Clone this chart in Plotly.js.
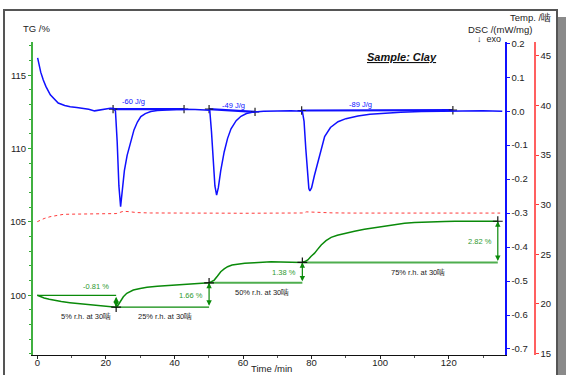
<!DOCTYPE html>
<html>
<head>
<meta charset="utf-8">
<script src="https://cdn.plot.ly/plotly-3.0.1.min.js"></script>
<style>html,body{margin:0;padding:0;background:#fff;}#chart{width:571px;height:375px;}</style>
</head>
<body>
<div id="chart"></div>
<script>
// ---- Data ----
const tgTime = [0, 1, 2, 3.5, 4.7, 7, 9.5, 12, 14.4, 17, 19.3, 21, 23, 23.6, 24.3, 25.1, 26.1, 27, 28, 30, 32, 35, 37.7, 40.5, 43.6, 46.5, 49.4, 50.1, 50.8, 51.6, 52.5, 53.5, 54.5, 55.5, 56.8, 58.4, 60.5, 63.3, 66, 68.2, 71, 74, 77.3, 78, 78.9, 79.8, 80.8, 81.8, 82.8, 84.2, 85.7, 87.5, 89.6, 92.5, 95.4, 98.3, 101.3, 104.2, 107.1, 110, 113, 116, 118.8, 121.8, 124.7, 129.5, 134.3];
const tg = [100.0, 99.9, 99.82, 99.73, 99.67, 99.57, 99.5, 99.44, 99.39, 99.33, 99.29, 99.25, 99.19, 99.34, 99.6, 99.9, 100.14, 100.27, 100.36, 100.47, 100.55, 100.61, 100.65, 100.7, 100.75, 100.8, 100.84, 100.85, 100.93, 101.04, 101.3, 101.61, 101.8, 101.95, 102.06, 102.13, 102.18, 102.22, 102.26, 102.29, 102.27, 102.25, 102.24, 102.3, 102.41, 102.65, 102.86, 103.15, 103.43, 103.73, 103.95, 104.1, 104.23, 104.37, 104.5, 104.61, 104.72, 104.82, 104.91, 104.96, 105.0, 105.02, 105.04, 105.05, 105.06, 105.06, 105.05];

const dscTime = [0.1, 0.5, 1, 1.75, 2.5, 3.8, 5, 6.1, 8, 9.6, 11.5, 13.5, 15, 16.7, 18, 19.5, 21.3, 22.3, 22.8, 23.3, 23.8, 24.3, 24.8, 25.4, 26.2, 27.2, 28.2, 29.2, 30.2, 31.5, 33.1, 35, 38, 42, 46, 49, 50.3, 50.8, 51.3, 51.8, 52.3, 52.8, 53.5, 54.5, 55.5, 56.5, 58, 59.4, 61, 63.3, 66, 70, 74, 77.3, 77.8, 78.3, 78.8, 79.2, 79.5, 80, 80.8, 81.8, 82.8, 83.8, 85.5, 87.7, 90, 93.5, 97, 101.2, 106, 112, 118, 124, 130, 135.6];
const dsc = [0.157, 0.135, 0.115, 0.092, 0.073, 0.048, 0.034, 0.024, 0.017, 0.013, 0.011, 0.009, 0.006, 0.001, 0.003, 0.007, 0.009, 0.008, 0.0, -0.09, -0.22, -0.281, -0.24, -0.175, -0.13, -0.09, -0.055, -0.032, -0.016, -0.007, -0.001, 0.002, 0.004, 0.006, 0.005, 0.004, 0.003, -0.06, -0.15, -0.22, -0.247, -0.225, -0.175, -0.12, -0.08, -0.052, -0.028, -0.015, -0.007, -0.002, 0.0, 0.001, 0.001, 0.0, -0.03, -0.11, -0.19, -0.228, -0.235, -0.225, -0.19, -0.153, -0.11, -0.075, -0.048, -0.031, -0.022, -0.014, -0.009, -0.006, -0.003, -0.001, 0.0, 0.001, 0.001, 0.0];

const tempTime = [0, 1, 2, 3.7, 5.5, 7.6, 10, 14.4, 18, 22, 23, 23.5, 24.3, 25.1, 26.5, 29, 33, 38, 43.5, 50, 55, 60, 65, 70, 75, 77.5, 78.5, 80, 82, 86, 92, 100, 108, 116, 124, 130, 135];
const temp = [28.28, 28.45, 28.6, 28.78, 28.92, 29.02, 29.04, 29.05, 29.08, 29.12, 29.1, 29.15, 29.28, 29.33, 29.3, 29.2, 29.16, 29.14, 29.13, 29.13, 29.14, 29.13, 29.13, 29.14, 29.13, 29.16, 29.27, 29.25, 29.2, 29.17, 29.15, 29.14, 29.14, 29.15, 29.15, 29.16, 29.15];

// TG step evaluation
const stepTimes = [0, 23.0, 50.1, 77.3, 134.3];
const stepLevels = [100.0, 99.19, 100.85, 102.24, 105.05];
const stepLabels = ['-0.81 %', '1.66 %', '1.38 %', '2.82 %'];
const rhLabels = ['5% r.h. at 30啮', '25% r.h. at 30啮', '50% r.h. at 30啮', '75% r.h. at 30啮'];

// DSC peak integration
const peakStart = [22.1, 50.1, 77.1];
const peakEnd = [42.8, 63.5, 121.2];
const baseStart = [0.006, 0.006, 0.002];
const baseEnd = [0.006, -0.002, 0.003];
const peakLabels = ['-60 J/g', '-49 J/g', '-89 J/g'];

// Axis ticks
const xTicks = [0, 20, 40, 60, 80, 100, 120];
const tgTicks = [100, 105, 110, 115];
const dscTickVals = [-0.7, -0.6, -0.5, -0.4, -0.3, -0.2, -0.1, 0.0, 0.1, 0.2];
const dscTickText = ['-0.7', '-0.6', '-0.5', '-0.4', '-0.3', '-0.2', '-0.1', '0.0', '0.1', '0.2'];
const tempTicks = [15, 20, 25, 30, 35, 40, 45];

// ---- Styling / positions ----
const FONT = 'Liberation Sans, Arial, sans-serif';
const GREEN = '#0a8a0a';
const LEVEL_GREEN = '#4fae4f';
const LABEL_GREEN = '#2f9a2f';
const BLUE = '#1010ff';
const RED = '#ff3a3a';

const traces = [];
for (let i = 0; i < stepLabels.length; i++) {
  traces.push({x: [stepTimes[i], stepTimes[i + 1]], y: [stepLevels[i], stepLevels[i]], xaxis: 'x', yaxis: 'y', mode: 'lines',
    line: {color: i < 2 ? GREEN : LEVEL_GREEN, width: i < 2 ? 1.3 : 2}, hoverinfo: 'skip', showlegend: false});
}
traces.push({x: tgTime, y: tg, xaxis: 'x', yaxis: 'y', mode: 'lines', line: {color: GREEN, width: 1.5}, name: 'TG', showlegend: false});
traces.push({x: stepTimes.slice(1), y: stepLevels.slice(1), xaxis: 'x', yaxis: 'y', mode: 'markers',
  marker: {symbol: 'cross-thin', size: 7, line: {color: '#111', width: 1.2}}, showlegend: false, hoverinfo: 'skip'});
traces.push({x: tempTime, y: temp, xaxis: 'x', yaxis: 'y3', mode: 'lines', line: {color: RED, width: 1, dash: 'dot'}, name: 'Temp', showlegend: false});
for (let i = 0; i < peakStart.length; i++) {
  traces.push({x: [peakStart[i], peakEnd[i]], y: [baseStart[i], baseEnd[i]], xaxis: 'x', yaxis: 'y2', mode: 'lines+markers',
    line: {color: BLUE, width: 2.2}, marker: {symbol: 'cross-thin', size: 6, line: {color: '#222', width: 1.2}}, showlegend: false, hoverinfo: 'skip'});
}
traces.push({x: dscTime, y: dsc, xaxis: 'x', yaxis: 'y2', mode: 'lines', line: {color: BLUE, width: 1.5}, name: 'DSC', showlegend: false});

const annotations = [];
for (let i = 0; i < stepLabels.length; i++) {
  const t = stepTimes[i + 1];
  annotations.push({x: t, y: stepLevels[i + 1], ax: t, ay: stepLevels[i], xref: 'x', yref: 'y', axref: 'x', ayref: 'y',
    text: '', showarrow: true, arrowhead: 2, startarrowhead: 2, arrowside: 'end+start', arrowsize: 0.9, arrowwidth: 1.2,
    arrowcolor: GREEN, standoff: 0, startstandoff: 0});
  let lx, ly, xa;
  if (i === 0) { lx = t - 6; ly = stepLevels[i] + 0.6; xa = 'center'; }
  else { lx = t - 1.2; ly = (stepLevels[i] + stepLevels[i + 1]) / 2; xa = 'right'; }
  annotations.push({x: lx, y: ly, xref: 'x', yref: 'y', text: stepLabels[i], showarrow: false, xanchor: xa,
    font: {family: FONT, size: 7.5, color: LABEL_GREEN}});
}
const rhX = [14.2, 37.2, 65.5, 111];
for (let i = 0; i < rhLabels.length; i++) {
  annotations.push({x: rhX[i], y: Math.min(stepLevels[i], stepLevels[i + 1]) - 0.66, xref: 'x', yref: 'y', text: rhLabels[i],
    showarrow: false, font: {family: FONT, size: 7.5, color: '#222'}});
}
const peakLabelX = [28.2, 57.2, 94.3];
const peakLabelY = [0.03, 0.016, 0.02];
for (let i = 0; i < peakLabels.length; i++) {
  annotations.push({x: peakLabelX[i], y: peakLabelY[i], xref: 'x', yref: 'y2', text: peakLabels[i], showarrow: false,
    font: {family: FONT, size: 7.5, color: BLUE}});
}
const L = 33, T = 42, W = 501, H = 313;
const px = v => (v - L) / W;
const py = v => (T + H - v) / H;
annotations.push({x: px(36), y: py(28), xref: 'paper', yref: 'paper', text: 'TG /%', showarrow: false, xanchor: 'center', yanchor: 'middle',
  font: {family: FONT, size: 9.5, color: '#222'}});
annotations.push({x: px(534), y: py(29.5), xref: 'paper', yref: 'paper', text: 'DSC /(mW/mg)', showarrow: false, xanchor: 'right', yanchor: 'middle',
  font: {family: FONT, size: 9.5, color: '#222'}});
annotations.push({x: px(503), y: py(39), xref: 'paper', yref: 'paper', text: '↓  exo', showarrow: false, xanchor: 'right', yanchor: 'middle',
  font: {family: FONT, size: 9, color: '#222'}});
annotations.push({x: px(553), y: py(18), xref: 'paper', yref: 'paper', text: 'Temp. /啮', showarrow: false, xanchor: 'right', yanchor: 'middle',
  font: {family: FONT, size: 9.5, color: '#222'}});
annotations.push({x: px(401.5), y: py(57), xref: 'paper', yref: 'paper', text: '<b><i><u>Sample: Clay</u></i></b>', showarrow: false, xanchor: 'center', yanchor: 'middle',
  font: {family: FONT, size: 11, color: '#111'}});
annotations.push({x: px(271), y: py(368.5), xref: 'paper', yref: 'paper', text: 'Time /min', showarrow: false, xanchor: 'center', yanchor: 'middle',
  font: {family: FONT, size: 9.5, color: '#222'}});

const shapes = [
  {type: 'rect', xref: 'paper', yref: 'paper', x0: px(557.5), x1: px(566), y0: py(390), y1: py(17), fillcolor: '#8a8a8a', line: {width: 0}, layer: 'below'},
  {type: 'rect', xref: 'paper', yref: 'paper', x0: px(4), x1: px(557), y0: py(390), y1: py(10), fillcolor: 'rgba(0,0,0,0)', line: {color: '#555', width: 2}, layer: 'below'}
];

const layout = {
  width: 571, height: 375,
  margin: {l: L, r: 571 - L - W, t: T, b: 375 - T - H, pad: 0},
  paper_bgcolor: '#fff', plot_bgcolor: 'rgba(0,0,0,0)',
  showlegend: false,
  font: {family: FONT, size: 9, color: '#222'},
  xaxis: {domain: [0, (505 - L) / W], range: [-1.25, 136.4], tickvals: xTicks, ticks: 'outside', ticklen: 3, tickcolor: '#222',
    minor: {dtick: 10, tick0: 0, ticks: 'outside', ticklen: 2, tickcolor: '#555'},
    showline: true, linecolor: '#111', linewidth: 1, showgrid: false, zeroline: false, ticklabelstandoff: -4,
    tickfont: {family: FONT, size: 9.5, color: '#222'}},
  yaxis: {range: [95.93, 117.27], tickvals: tgTicks, ticks: 'outside', ticklen: 3, tickcolor: '#3a3',
    minor: {dtick: 1, ticks: 'outside', ticklen: 2, tickcolor: '#3a3'},
    showline: true, linecolor: '#40b040', linewidth: 2, showgrid: false, zeroline: false,
    tickfont: {family: FONT, size: 9.5, color: '#222'}},
  yaxis2: {range: [-0.7177, 0.2037], overlaying: 'y', side: 'right', anchor: 'x', tickvals: dscTickVals, ticktext: dscTickText,
    ticks: 'outside', ticklen: 3, tickcolor: BLUE, showline: true, linecolor: BLUE, linewidth: 1.5, showgrid: false, zeroline: false,
    tickfont: {family: FONT, size: 9.5, color: '#222'}},
  yaxis3: {range: [14.83, 46.41], overlaying: 'y', side: 'right', anchor: 'free', position: 1, tickvals: tempTicks,
    ticks: 'outside', ticklen: 3, tickcolor: RED, showline: true, linecolor: '#ff6060', linewidth: 1.5, showgrid: false, zeroline: false,
    tickfont: {family: FONT, size: 9.5, color: '#222'}},
  annotations: annotations,
  shapes: shapes
};

Plotly.newPlot('chart', traces, layout, {staticPlot: true, displayModeBar: false});
</script>
</body>
</html>
